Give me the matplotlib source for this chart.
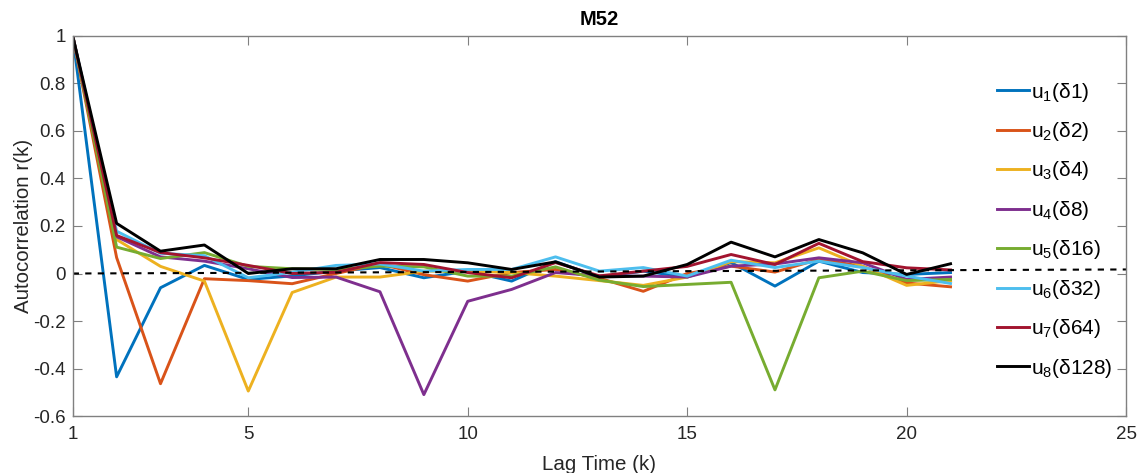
import numpy as np
import matplotlib.pyplot as plt
from matplotlib.ticker import FormatStrFormatter

plt.rcParams['font.family'] = ['Liberation Sans', 'DejaVu Sans']
plt.rcParams['mathtext.fontset'] = 'custom'
plt.rcParams['mathtext.rm'] = 'Liberation Sans'
plt.rcParams['axes.unicode_minus'] = False

# lag times and autocorrelation values per scale
lags = np.arange(1, 22)
u1 = [1, -0.435, -0.06, 0.034, -0.025, -0.01, 0.01, 0.025, -0.018, 0.01, -0.032,
      0.05, -0.015, 0.01, -0.015, 0.046, -0.053, 0.052, 0.004, -0.004, 0.004]
u2 = [1, 0.067, -0.464, -0.022, -0.03, -0.043, 0.0, 0.04, -0.005, -0.032, 0.004,
      0.017, -0.02, -0.075, 0.0, 0.031, 0.006, 0.06, 0.03, -0.04, -0.056]
u3 = [1, 0.143, 0.03, -0.032, -0.495, -0.08, -0.015, -0.015, 0.01, 0.01, 0.004,
      -0.011, -0.03, -0.05, -0.015, 0.05, 0.045, 0.108, 0.03, -0.05, -0.03]
u4 = [1, 0.155, 0.07, 0.052, 0.02, -0.017, -0.015, -0.077, -0.51, -0.117, -0.067,
      0.004, -0.01, -0.011, -0.015, 0.031, 0.04, 0.066, 0.045, -0.025, -0.015]
u5 = [1, 0.111, 0.063, 0.088, 0.03, 0.02, 0.017, 0.031, 0.028, -0.011, -0.011,
      0.028, -0.028, -0.055, -0.046, -0.037, -0.49, -0.018, 0.01, -0.03, -0.025]
u6 = [1, 0.178, 0.085, 0.075, -0.018, 0.005, 0.034, 0.04, 0.01, 0.017, 0.017,
      0.07, 0.01, 0.025, -0.011, 0.056, 0.025, 0.052, 0.025, -0.011, -0.042]
u7 = [1, 0.16, 0.088, 0.066, 0.034, 0.0, 0.005, 0.046, 0.038, 0.004, -0.018,
      0.046, -0.01, 0.01, 0.03, 0.08, 0.038, 0.127, 0.05, 0.024, 0.015]
u8 = [1, 0.211, 0.094, 0.12, 0.0, 0.02, 0.02, 0.059, 0.059, 0.045, 0.017,
      0.049, -0.015, -0.011, 0.038, 0.132, 0.07, 0.143, 0.087, -0.004, 0.041]
series = [u1, u2, u3, u4, u5, u6, u7, u8]
labels = [r'$\mathregular{u_%d}$(δ%d)' % (i + 1, 2 ** i) for i in range(8)]
colors = ['#0072BD', '#D95319', '#EDB120', '#7E2F8E',
          '#77AC30', '#4DBEEE', '#A2142F', '#000000']

# dashed reference line
ref_x = [1, 25]
ref_y = [0, 0.017]

xticks = [1, 5, 10, 15, 20, 25]
yticks = [-0.6, -0.4, -0.2, 0, 0.2, 0.4, 0.6, 0.8, 1]

fig = plt.figure(figsize=(11.4, 4.73), dpi=100)
ax = fig.add_axes([0.0638, 0.1205, 0.924, 0.8034])

for y, lab, c in zip(series, labels, colors):
    ax.plot(lags, y, color=c, lw=2.1, label=lab)
ax.plot(ref_x, ref_y, 'k--', lw=1.5, dashes=(3, 3))

ax.set_xlim(1, 25)
ax.set_ylim(-0.6, 1)
ax.set_xticks(xticks)
ax.set_yticks(yticks)
ax.yaxis.set_major_formatter(FormatStrFormatter('%g'))

gray = '#808080'
txt = '#262626'
for s in ax.spines.values():
    s.set_color(gray)
    s.set_linewidth(1.0)
ax.tick_params(direction='in', length=6.5, width=0.8, color=gray,
               labelcolor=txt, labelsize=13.5, top=True, right=True)
ax.tick_params(axis='x', pad=7.5)
ax.tick_params(axis='y', pad=5)

ax.set_xlabel('Lag Time (k)', fontsize=14.8, color=txt, labelpad=8)
ax.set_ylabel('Autocorrelation r(k)', fontsize=14.8, color=txt, labelpad=0)
ax.set_title('M52', fontsize=14.5, fontweight='bold', color='black', pad=8)

ax.legend(loc='center left', bbox_to_anchor=(0.877, 0.489), frameon=False,
          fontsize=15, borderpad=0, borderaxespad=0, handlelength=1.54,
          handletextpad=0.1, labelspacing=0.79)

fig.savefig('out.png', dpi=100)
